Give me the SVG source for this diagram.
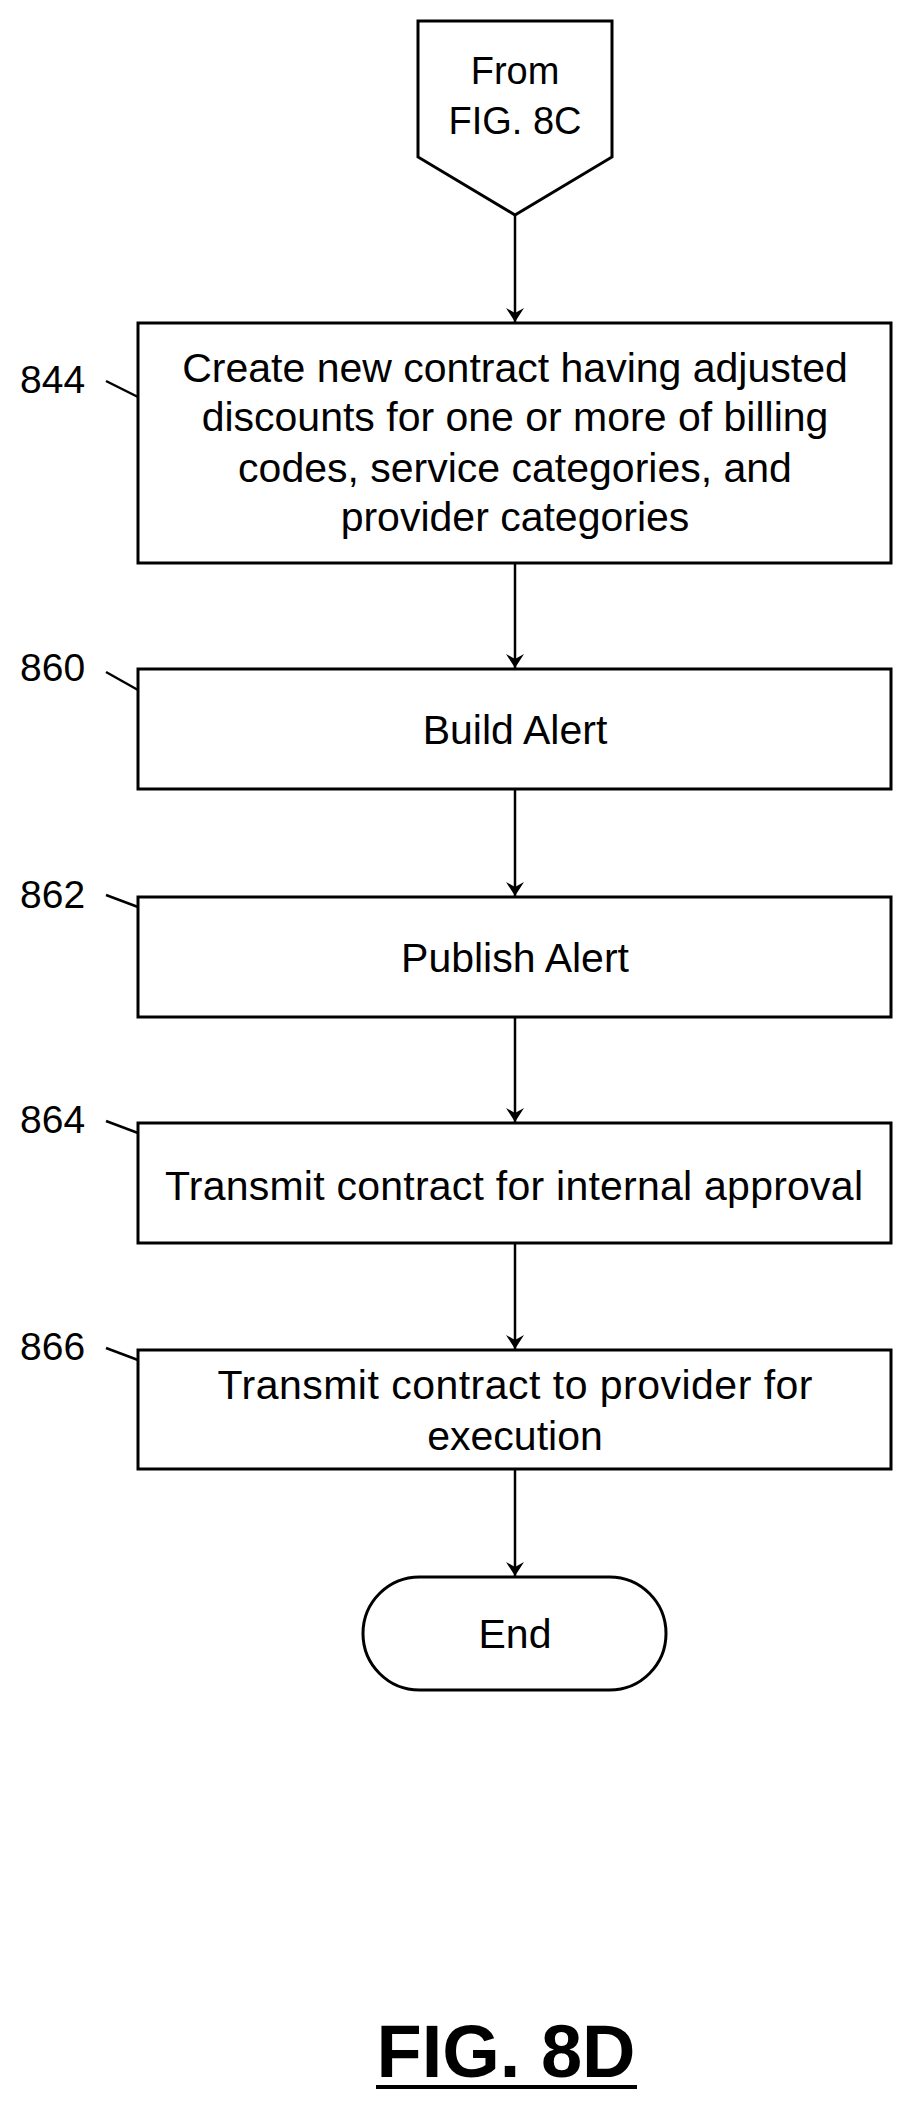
<svg xmlns="http://www.w3.org/2000/svg" width="911" height="2105" viewBox="0 0 911 2105">
<style>
.b{fill:#fff;stroke:#000;stroke-width:3}
.t{font-family:"Liberation Sans",Arial,sans-serif;font-size:41px;text-anchor:middle;fill:#000}
.l{font-family:"Liberation Sans",Arial,sans-serif;font-size:39px;fill:#000}
.c{stroke:#000;stroke-width:2.5;fill:none}
</style>
<defs><marker id="a" markerWidth="16" markerHeight="18" refX="14" refY="9" orient="auto" markerUnits="userSpaceOnUse"><path d="M0,0 L14,9 L0,18 L5,9 Z" fill="#000"/></marker></defs>
<g id="start"><path class="b" d="M414,21 H608 V157 L511,215 L414,157 Z" transform="translate(4,0)"/><text class="t" x="515" y="84" style="font-size:38px">From</text><text class="t" x="515" y="134" style="font-size:38px">FIG. 8C</text></g>
<g id="n844"><rect class="b" x="138" y="323" width="753" height="240"/><text class="t" x="515" y="382">Create new contract having adjusted</text><text class="t" x="515" y="431">discounts for one or more of billing</text><text class="t" x="515" y="482">codes, service categories, and</text><text class="t" x="515" y="531">provider categories</text><text class="l" x="20" y="393">844</text><path class="c" d="M106,381 L138,397"/></g>
<g id="n860"><rect class="b" x="138" y="669" width="753" height="120"/><text class="t" x="515" y="744">Build Alert</text><text class="l" x="20" y="681">860</text><path class="c" d="M106,672 L138,690"/></g>
<g id="n862"><rect class="b" x="138" y="897" width="753" height="120"/><text class="t" x="515" y="972">Publish Alert</text><text class="l" x="20" y="908">862</text><path class="c" d="M106,895 L138,907"/></g>
<g id="n864"><rect class="b" x="138" y="1123" width="753" height="120"/><text class="t" x="514" y="1200" textLength="698" lengthAdjust="spacing">Transmit contract for internal approval</text><text class="l" x="20" y="1133">864</text><path class="c" d="M106,1121 L138,1133"/></g>
<g id="n866"><rect class="b" x="138" y="1350" width="753" height="119"/><text class="t" x="515" y="1399" textLength="595" lengthAdjust="spacing">Transmit contract to provider for</text><text class="t" x="515" y="1450">execution</text><text class="l" x="20" y="1360">866</text><path class="c" d="M106,1348 L138,1360"/></g>
<g id="end"><rect class="b" x="363" y="1577" width="303" height="113" rx="56.5"/><text class="t" x="515" y="1648">End</text></g>
<g id="connectors">
<path class="c" d="M515,215 V322" marker-end="url(#a)"/>
<path class="c" d="M515,563 V668" marker-end="url(#a)"/>
<path class="c" d="M515,789 V896" marker-end="url(#a)"/>
<path class="c" d="M515,1017 V1122" marker-end="url(#a)"/>
<path class="c" d="M515,1243 V1349" marker-end="url(#a)"/>
<path class="c" d="M515,1469 V1576" marker-end="url(#a)"/>
</g>
<g id="title"><text x="506" y="2077" style="font-family:'Liberation Sans',Arial,sans-serif;font-size:74px;font-weight:bold;text-anchor:middle">FIG. 8D</text><path d="M376,2087 H637" stroke="#000" stroke-width="4"/></g>
</svg>
